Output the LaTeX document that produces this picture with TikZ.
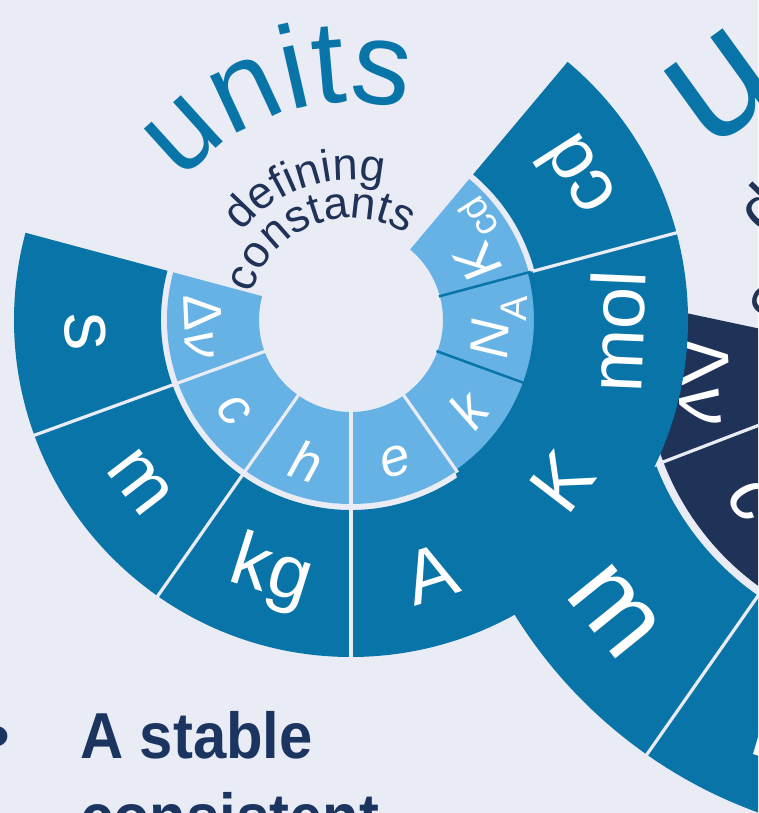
\documentclass[tikz,border=0pt]{standalone}
\usepackage{fontspec}
\usepackage{graphicx}
\setmainfont{Liberation Sans}
\usetikzlibrary{decorations.text}
\definecolor{paper}{HTML}{E9EBF5}
\definecolor{unitblue}{HTML}{0874A8}
\definecolor{constblue}{HTML}{66B2E5}
\definecolor{navy}{HTML}{1F3257}
\definecolor{inkblue}{HTML}{1B3560}
\newcommand\fsz[1]{\fontsize{#1}{#1}\selectfont}
\newcommand\unitsfont{\fontsize{118}{118}\selectfont}
\newcommand\unitsfontB{\fontsize{172}{172}\selectfont}
\newcommand\constfont{\fontsize{45}{45}\selectfont}
\newcommand\constfontB{\fontsize{64}{64}\selectfont}
\newcommand\cDnu{{\upshape Δ}ν}
\newcommand\cNA{N\textsubscript{\upshape A}}
\newcommand\cKcd{K\textsubscript{\upshape cd}}

\begin{document}
\begin{tikzpicture}[x=1pt,y=1pt,
  sep/.style={draw=paper,line width=3.2pt},
  unitlbl/.style={text=white,font=\fsz{76},inner sep=0pt},
  constlbl/.style={text=white,font=\itshape\fsz{54},inner sep=0pt},
  unitlblB/.style={text=white,font=\fsz{108},inner sep=0pt},
  constlblB/.style={text=white,font=\itshape\fsz{76},inner sep=0pt}]
\useasboundingbox (0,0) rectangle (758,813);
\fill[paper] (0,0) rectangle (758,813);
\clip (0,0) rectangle (758,813);

% second wheel, behind
\begin{scope}[shift={(921,450)}]
\fill[navy] (168:133) arc[start angle=168,end angle=410,radius=133] -- (410:276) arc[start angle=410,end angle=168,radius=276] -- cycle;
\fill[unitblue] (168:284) arc[start angle=168,end angle=410,radius=284] -- (410:478) arc[start angle=410,end angle=168,radius=478] -- cycle;
\foreach \a in {201,235,270,305,340,375}
  \draw[sep] (\a:131) -- (\a:480);
\foreach \t [count=\i from 0] in {\cDnu,c,h,e,k,\cNA,\cKcd}{
  \pgfmathsetmacro\m{184.5+34.5*\i}
  \node[constlblB,rotate=\m+90] (constB\i) at (\m:218) {\t};}
\foreach \t [count=\i from 0] in {s,m,kg,A,K,mol,cd}{
  \pgfmathsetmacro\m{184.5+34.5*\i}
  \node[unitlblB,rotate=\m+90] (unitB\i) at (\m:395) {\t};}
\path[decorate,decoration={text along path,text align=center,text color=unitblue,text={|\unitsfontB|units}}]
  (170:296) arc[start angle=170,end angle=30,radius=296];
\path[decorate,decoration={text along path,text align=center,text color=navy,text={|\constfontB|defining}}]
  (179:200) arc[start angle=179,end angle=39,radius=200];
\path[decorate,decoration={text along path,text align=center,text color=navy,text={|\constfontB|constants}}]
  (181:146) arc[start angle=181,end angle=41,radius=146];
\end{scope}

% front wheel
\begin{scope}[shift={(351,493)}]
\fill[constblue] (165:92) arc[start angle=165,end angle=410,radius=92] -- (410:184) arc[start angle=410,end angle=165,radius=184] -- cycle;
\fill[unitblue] (165:190) arc[start angle=165,end angle=410,radius=190] -- (410:337) arc[start angle=410,end angle=165,radius=337] -- cycle;
\fill[unitblue] (305:183) arc[start angle=305,end angle=375,radius=183] -- (375:191) arc[start angle=375,end angle=305,radius=191] -- cycle;
\foreach \a in {200,235,270,305}
  \draw[sep] (\a:90) -- (\a:186);
\foreach \a in {200,235,270,375}
  \draw[sep] (\a:188) -- (\a:339);
\foreach \a in {340,375}
  \draw[unitblue,line width=2.5pt] (\a:91) -- (\a:186);
\foreach \t [count=\i from 0] in {\cDnu,c,h,e,k,\cNA,\cKcd}{
  \pgfmathsetmacro\m{182.5+35*\i}
  \node[constlbl,rotate=\m+90] (const\i) at (\m:148) {\t};}
\foreach \t [count=\i from 0] in {s,m,kg,A,K,mol,cd}{
  \pgfmathsetmacro\m{182.5+35*\i}
  \node[unitlbl,rotate=\m+90] (unit\i) at (\m:266) {\t};}
\path[decorate,decoration={text along path,text align=center,text color=unitblue,text={|\unitsfont|units}}]
  (178:218) arc[start angle=178,end angle=38,radius=218];
\path[decorate,decoration={text along path,text align=center,text color=navy,text={|\constfont|defining}}]
  (179:140) arc[start angle=179,end angle=39,radius=140];
\path[decorate,decoration={text along path,text align=center,text color=navy,text={|\constfont|constants}}]
  (181:102) arc[start angle=181,end angle=41,radius=102];
\end{scope}

\node[anchor=base,text=inkblue,font=\fsz{72},inner sep=0pt] (dot) at (-2,52) {•};
\node[anchor=base west,text=inkblue,font=\bfseries\fsz{65},inner sep=0pt] (line1) at (80,54) {\scalebox{0.92}[1]{A stable}};
\node[anchor=base west,text=inkblue,font=\bfseries\fsz{65},inner sep=0pt] (line2) at (80,-27) {\scalebox{0.92}[1]{consistent}};
\end{tikzpicture}
\end{document}
